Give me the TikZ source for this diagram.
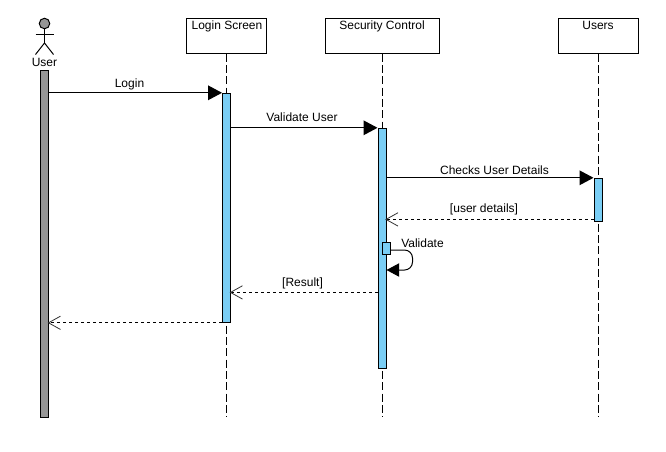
\documentclass[tikz,border=0pt]{standalone}
\usepackage{fontspec}
\setmainfont{Liberation Sans}
\usetikzlibrary{arrows.meta,calc}
\definecolor{barblue}{RGB}{122,206,245}
\definecolor{bargray}{RGB}{150,150,150}
\tikzset{
  x=0.75pt,y=-0.75pt,
  every node/.style={font=\fontsize{9}{11}\selectfont,text=black},
  outline/.style={line width=0.75pt,draw=black},
  headbox/.style={outline,fill=white,rectangle,minimum height=26.25pt,inner sep=0pt},
  bar/.style={outline,rectangle,minimum width=6pt,inner sep=0pt},
  bluebar/.style={bar,fill=barblue},
  graybar/.style={bar,fill=bargray},
  lifeline/.style={line width=0.75pt,dash pattern=on 6pt off 2.5pt},
  msg/.style={line width=0.75pt,-{Triangle[length=10.5pt,width=11pt]}},
  reply/.style={line width=0.75pt,dash pattern=on 2.25pt off 2.25pt,shorten >=-1pt,-{Straight Barb[length=9pt,width=10pt,line width=0.6pt,color=black!80]}},
  selfmsg/.style={line width=0.75pt,rounded corners=6pt,-{Triangle[length=9.5pt,width=10pt]}},
  msglabel/.style={inner sep=0pt,anchor=base},
  headlabel/.style={inner sep=0pt,anchor=base}
}
\begin{document}
\begin{tikzpicture}
\useasboundingbox (0,0) rectangle (666,451);
% head boxes
\node[headbox,minimum width=60pt] (login) at (226.5,35.5) {};
\node[headbox,minimum width=85.5pt] (sec) at (382,35.5) {};
\node[headbox,minimum width=60pt] (users) at (598,35.5) {};
\node[headlabel] (logintext) at (227,29) {Login Screen};
\node[headlabel] (sectext) at (382,29) {Security Control};
\node[headlabel] (userstext) at (598,29) {Users};
% lifeline ends
\coordinate (loginend) at (226.5,417.3);
\coordinate (secend) at (382,417.3);
\coordinate (usersend) at (598,417.3);
\draw[lifeline] (login.south) -- (loginend);
\draw[lifeline] (sec.south) -- (secend);
\draw[lifeline] (users.south) -- (usersend);
% actor
\node[circle,outline,fill=bargray,minimum size=7.9pt,inner sep=0pt] (head) at (44.5,23.5) {};
\coordinate (hip) at (44.5,43);
\coordinate (armL) at (35.5,34);
\coordinate (armR) at (53.5,34);
\coordinate (legL) at (35.5,54.5);
\coordinate (legR) at (53.5,54.5);
\draw[line width=0.75pt] (head.south) -- (hip);
\draw[line width=0.75pt] (armL) -- (armR);
\draw[line width=0.75pt] (legL) -- (hip) -- (legR);
\node[headlabel] (usertext) at (44.5,66) {User};
% bars
\node[graybar,minimum height=260.25pt] (userbar) at (44.5,243.8) {};
\node[bluebar,minimum height=171.75pt] (loginbar) at (226.5,207.8) {};
\node[bluebar,minimum height=180pt] (secbar) at (382,248.3) {};
\node[bluebar,minimum height=32.25pt] (usersbar) at (598,199.8) {};
\node[bluebar,minimum width=6pt,minimum height=9pt] (selfbar) at (386,248) {};
% messages
\draw[msg] (userbar.east |- loginbar.north) -- (loginbar.west |- loginbar.north);
\node[msglabel] (l1) at (129.5,87) {Login};
\draw[msg] (loginbar.east |- secbar.north) -- (secbar.west |- secbar.north);
\node[msglabel] (l2) at (302,121) {Validate User};
\draw[msg] (secbar.east |- usersbar.north) -- (usersbar.west |- usersbar.north);
\node[msglabel] (l3) at (494.5,174) {Checks User Details};
\coordinate (detailstart) at (usersbar.west |- 0,219.4);
\draw[reply] (detailstart) -- (secbar.east |- detailstart);
\node[msglabel] (l4) at (484,212) {[user details]};
\coordinate (selfstart) at (selfbar.east |- 0,250);
\coordinate (selfc1) at (412.5,250);
\coordinate (selfc2) at (412.5,270);
\coordinate (selfend) at (secbar.east |- 0,270);
\draw[selfmsg] (selfstart) -- (selfc1) -- (selfc2) -- (selfend);
\node[msglabel] (l5) at (422.5,247) {Validate};
\coordinate (resultstart) at (secbar.west |- 0,292.4);
\draw[reply] (resultstart) -- (loginbar.east |- resultstart);
\node[msglabel] (l6) at (302.5,286) {[Result]};
\draw[reply] (loginbar.south west) -- (userbar.east |- loginbar.south);
\end{tikzpicture}
\end{document}
